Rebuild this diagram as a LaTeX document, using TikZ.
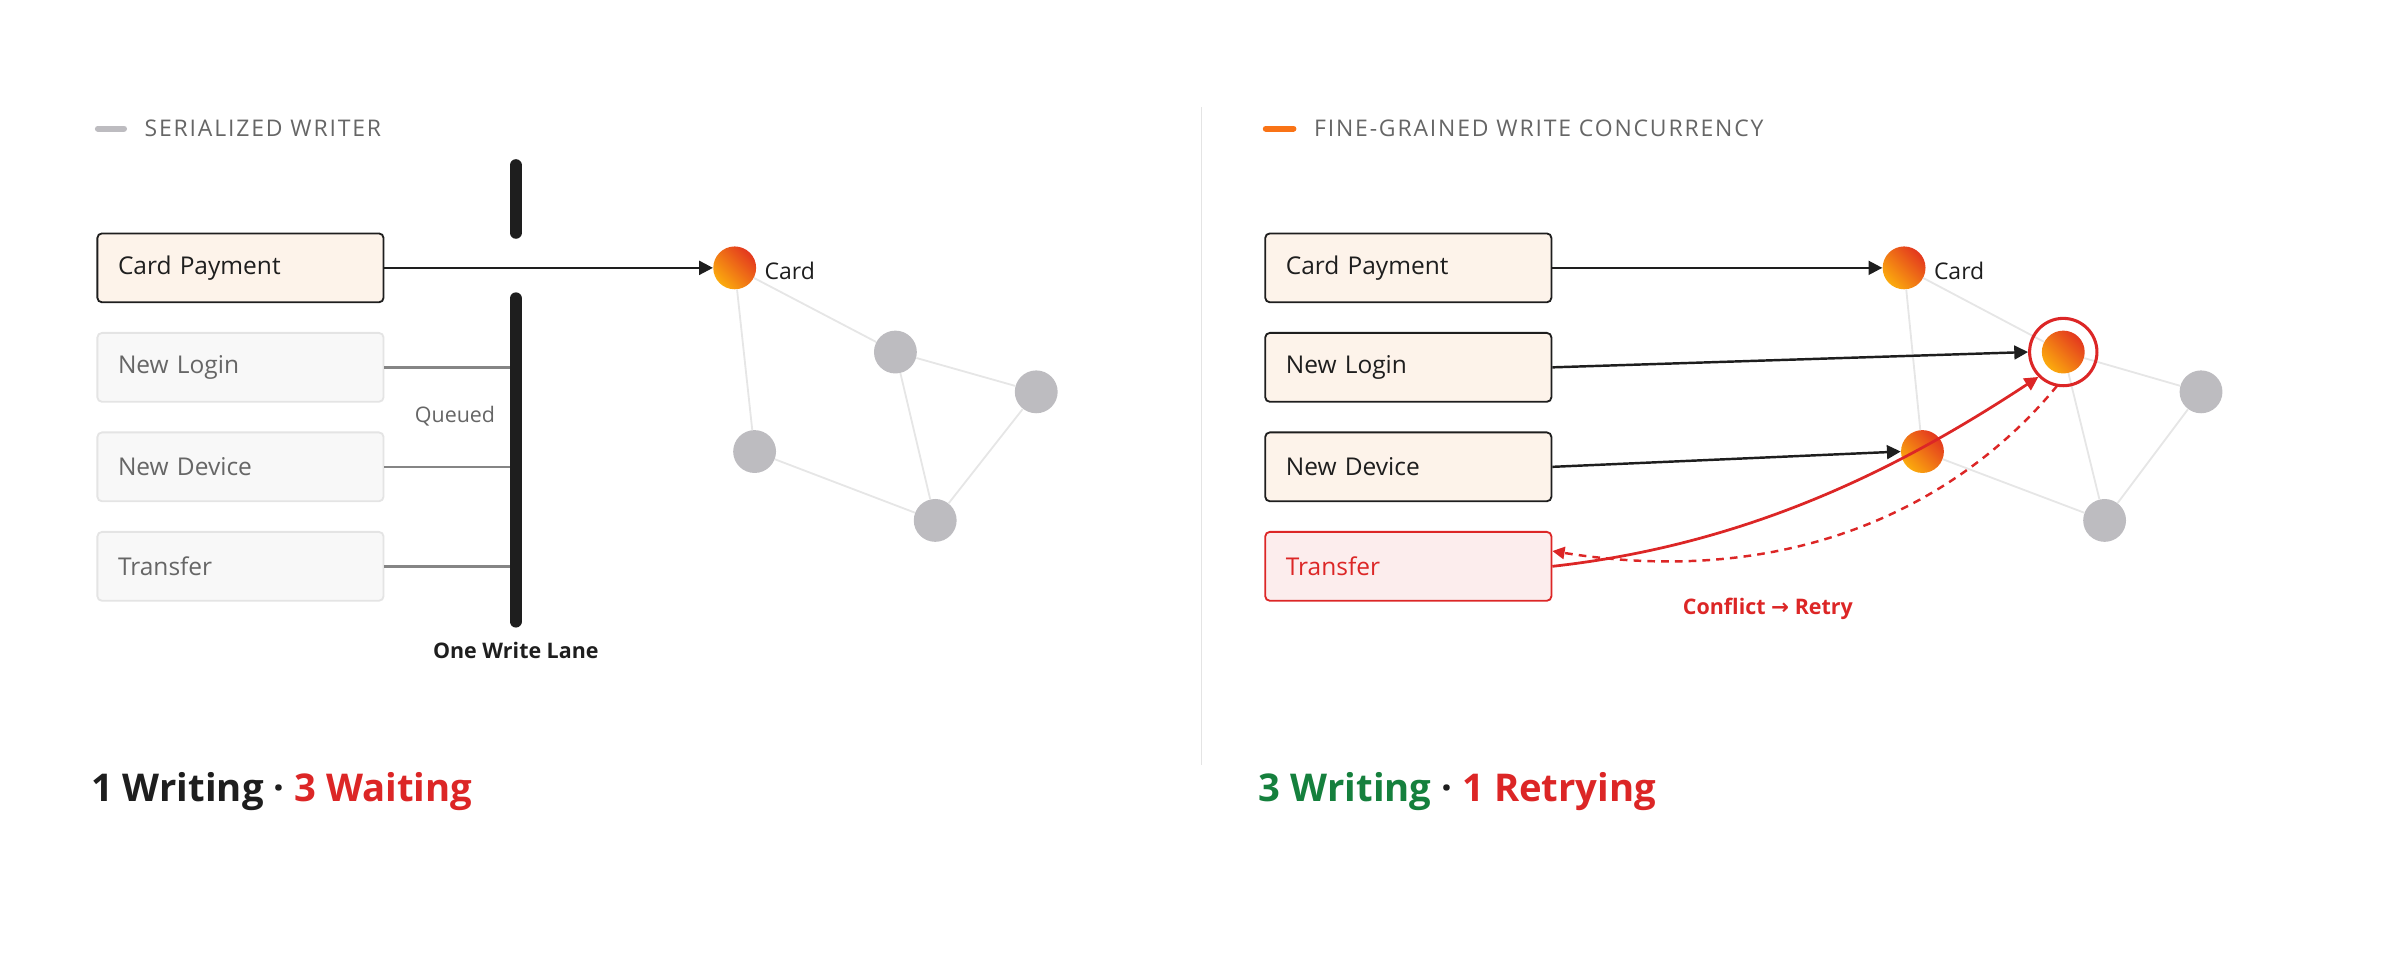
\documentclass[tikz,border=0pt]{standalone}
\usepackage{fontspec}
\setmainfont{Open Sans}
\newfontfamily\symfont{DejaVu Sans}
\usetikzlibrary{arrows.meta}
\definecolor{ink}{HTML}{1E1E1E}
\definecolor{mute}{HTML}{666666}
\definecolor{paper}{HTML}{FDF3EA}
\definecolor{ghost}{HTML}{F8F8F8}
\definecolor{ghostline}{HTML}{E4E4E4}
\definecolor{alert}{HTML}{DC2626}
\definecolor{alertbg}{HTML}{FCEDED}
\definecolor{hot}{HTML}{F97316}
\definecolor{okgreen}{HTML}{15803D}
\definecolor{dot}{HTML}{BDBCC0}
\definecolor{edge}{HTML}{E6E6E6}
\begin{document}
\begin{tikzpicture}[x=1pt,y=-1pt,
		task/.style={draw=ink, line width=1.2pt, fill=paper, rounded corners=3pt, minimum width=187pt, minimum height=45pt, inner sep=0pt, text width=160pt, align=left, font=\fontsize{16}{18}\selectfont, text=ink},
		idle/.style={task, draw=ghostline, fill=ghost, text=mute},
		fail/.style={task, draw=alert, fill=alertbg, text=alert},
		hotdot/.style={circle, minimum size=28pt, inner sep=0pt, shading=axis, left color=hot!60!yellow, right color=alert!80!orange, shading angle=135},
		graydot/.style={circle, minimum size=28pt, inner sep=0pt, fill=dot},
		link/.style={draw=edge, line width=1.2pt},
		push/.style={-{Triangle[length=9pt,width=9pt]}, line width=1.6pt, draw=ink},
		header/.style={anchor=west, text=mute, font=\fontsize{15}{18}\selectfont\addfontfeature{LetterSpace=8}},
		tally/.style={anchor=west, font=\fontsize{25}{30}\selectfont\bfseries}]
	\useasboundingbox (0,0) rectangle (1568,627);
	% headers
	\draw [line width=4pt, draw=dot, line cap=round] (64,84) -- (81,84);
	\node (hdrL) [header] at (91,84) {SERIALIZED WRITER};
	\draw [line width=4pt, draw=hot, line cap=round] (827,84) -- (845,84);
	\node (hdrR) [header] at (855,84) {FINE-GRAINED WRITE CONCURRENCY};
	\draw [draw=ghostline, line width=1pt] (785,70) -- (785,500);

	% left: one lane
	\node (lPay) [task, anchor=west] at (63,175) {Card Payment};
	\node (lLogin) [idle, anchor=west] at (63,240) {New Login};
	\node (lDevice) [idle, anchor=west] at (63,305) {New Device};
	\node (lTransfer) [idle, anchor=west] at (63,370) {Transfer};
	\draw [line width=8pt, draw=ink, line cap=round] (337,108) -- (337,152);
	\draw [line width=8pt, draw=ink, line cap=round] (337,195) -- (337,406);
	\coordinate (q1) at (333,240);
	\coordinate (q2) at (333,305);
	\coordinate (q3) at (333,370);
	\draw [draw=mute!80, line width=1.6pt] (lLogin.east) -- (q1);
	\draw [draw=mute!80, line width=1.6pt] (lDevice.east) -- (q2);
	\draw [draw=mute!80, line width=1.6pt] (lTransfer.east) -- (q3);
	\node (queued) [anchor=east, text=mute, font=\fontsize{14}{16}\selectfont] at (327,272) {Queued};
	\node (lane) [text=ink, font=\fontsize{14}{16}\selectfont\bfseries] at (337,425) {One Write Lane};

	\node (lCard) [hotdot] at (480,175) {};
	\node (lA) [graydot] at (585,230) {};
	\node (lB) [graydot] at (677,256) {};
	\node (lC) [graydot] at (493,295) {};
	\node (lD) [graydot] at (611,340) {};
	\begin{scope}[on background layer/.style={}]
		\foreach \a/\b in {lCard/lA, lCard/lC, lA/lB, lA/lD, lC/lD, lB/lD}
			\path [link] (\a) -- (\b);
	\end{scope}
	\node (lCardTxt) [anchor=west, text=ink, font=\fontsize{15}{18}\selectfont] at (496,177) {Card};
	\draw [push] (lPay.east) -- (lCard.west);

	% right: fine-grained
	\node (rPay) [task, anchor=west] at (826,175) {Card Payment};
	\node (rLogin) [task, anchor=west] at (826,240) {New Login};
	\node (rDevice) [task, anchor=west] at (826,305) {New Device};
	\node (rTransfer) [fail, anchor=west] at (826,370) {Transfer};

	\node (rCard) [hotdot] at (1244,175) {};
	\node (rHot) [hotdot] at (1348,230) {};
	\node (rDev) [hotdot] at (1256,295) {};
	\node (rB) [graydot] at (1438,256) {};
	\node (rD) [graydot] at (1375,340) {};
	\foreach \a/\b in {rCard/rHot, rCard/rDev, rHot/rB, rHot/rD, rDev/rD, rB/rD}
		\path [link] (\a) -- (\b);
	\node (ring) [circle, draw=alert, line width=2pt, minimum size=44pt] at (rHot) {};
	\node (rCardTxt) [anchor=west, text=ink, font=\fontsize{15}{18}\selectfont] at (1260,177) {Card};

	\draw [push] (rPay.east) -- (rCard.west);
	\draw [push] (rLogin.east) -- (ring.west);
	\draw [push] (rDevice.east) -- (rDev.west);
	\draw [-{Triangle[length=9pt,width=9pt]}, line width=1.8pt, draw=alert] (rTransfer.east) .. controls (1150,355) and (1250,300) .. (ring.south west);
	\coordinate (retry) at (1344,252);
	\draw [-{Triangle[length=8pt,width=8pt]}, line width=1.6pt, draw=alert, dash pattern=on 5pt off 4pt] (retry) .. controls (1280,330) and (1170,385) .. ([yshift=10pt]rTransfer.east);
	\node (conflict) [text=alert, font=\fontsize{14}{16}\selectfont\bfseries] at (1155,398) {Conflict {\symfont\bfseries →} Retry};

	% tallies
	\node (tallyL) [tally] at (56,517) {\textcolor{ink}{1 Writing ·} \textcolor{alert}{3 Waiting}};
	\node (tallyR) [tally] at (819,517) {\textcolor{okgreen}{3 Writing} \textcolor{ink}{·} \textcolor{alert}{1 Retrying}};
\end{tikzpicture}
\end{document}
